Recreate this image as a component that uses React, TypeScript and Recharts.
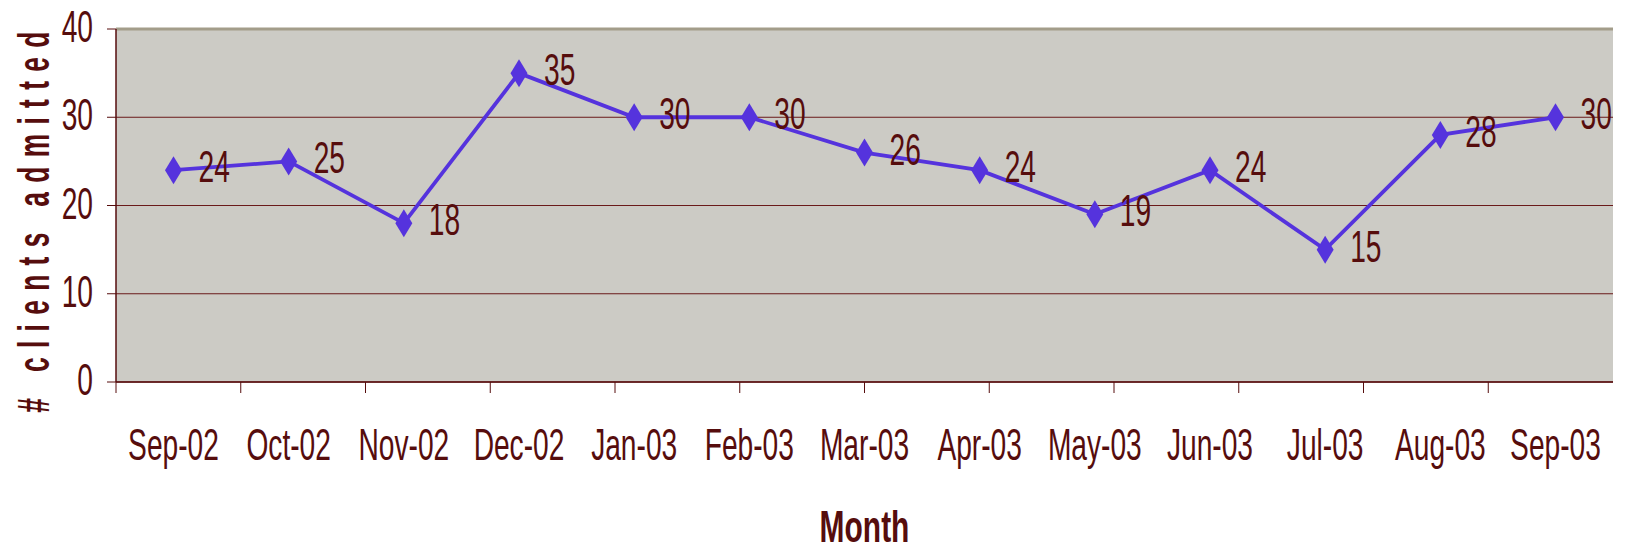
import React from 'react';
import {
  LineChart,
  Line,
  XAxis,
  YAxis,
  CartesianGrid,
  ReferenceLine,
  LabelList,
} from 'recharts';

/* ── Data ─────────────────────────────────────────────────── */
const months = [
  'Sep-02', 'Oct-02', 'Nov-02', 'Dec-02', 'Jan-03', 'Feb-03', 'Mar-03',
  'Apr-03', 'May-03', 'Jun-03', 'Jul-03', 'Aug-03', 'Sep-03',
];
const admitted = [24, 25, 18, 35, 30, 30, 26, 24, 19, 24, 15, 28, 30];
const yTicks = [0, 10, 20, 30, 40];
// category boundaries, where the tick marks sit
const edgeTicks = [0, 1, 2, 3, 4, 5, 6, 7, 8, 9, 10, 11, 12, 13];

const chartData = months.map((m, i) => ({ month: m, value: admitted[i] }));

/* ── Tokens ───────────────────────────────────────────────── */
const INK = '#560D0D';
const LINE = '#5533DD';
const PLOT_BG = '#CCCBC5';
const FRAME = '#A39D8A';
const GRID = '#6A1A1A';
const FONT = "'Liberation Sans', Arial, sans-serif";

/* squeezed text, the original uses a very condensed face */
function Squash(props: {
  x: number;
  y: number;
  size?: number;
  sx?: number;
  anchor?: 'start' | 'middle' | 'end';
  bold?: boolean;
  rotate?: number;
  spacing?: number;
  children: React.ReactNode;
}) {
  const { x, y, size = 44, sx = 0.64, anchor = 'middle', bold, rotate = 0, spacing = 0, children } = props;
  return (
    <text
      transform={`translate(${x} ${y}) rotate(${rotate}) scale(${sx} 1)`}
      textAnchor={anchor}
      fontFamily={FONT}
      fontSize={size}
      fontWeight={bold ? 700 : 400}
      letterSpacing={spacing}
      fill={INK}
    >
      {children}
    </text>
  );
}

const NoLabel = () => <g />;

const YTick = (p: any) => (
  <Squash x={p.x} y={p.y + 13} anchor="end">
    {p.payload.value}
  </Squash>
);

const MonthTick = (p: any) => (
  <Squash x={p.x} y={p.y + 77}>
    {p.payload.value}
  </Squash>
);

const Diamond = (p: any) => {
  const { cx, cy, index } = p;
  if (cx == null || cy == null) return <g key={index} />;
  return (
    <polygon
      key={index}
      points={`${cx},${cy - 14} ${cx + 8.5},${cy} ${cx},${cy + 14} ${cx - 8.5},${cy}`}
      fill={LINE}
    />
  );
};

const ValueLabel = (p: any) => (
  <Squash x={p.x + 25} y={p.y + 12} anchor="start">
    {p.value}
  </Squash>
);

const MonthTitle = (p: any) => {
  const vb = p.viewBox;
  return (
    <Squash x={vb.x + vb.width / 2} y={vb.y + vb.height - 9} size={44.7} sx={0.67} bold>
      Month
    </Squash>
  );
};

const YTitle = (p: any) => {
  const vb = p.viewBox;
  return (
    <Squash
      x={49}
      y={vb.y + vb.height / 2 + 12}
      size={44}
      sx={0.6}
      rotate={-90}
      spacing={15.5}
      bold
    >
      # clients admitted
    </Squash>
  );
};

export default function App() {
  return (
    <div style={{ position: 'absolute', left: 0, top: 0, width: 1627, height: 551, background: '#fff' }}>
      <LineChart
        width={1627}
        height={551}
        data={chartData}
        margin={{ top: 29, right: 14, bottom: 0, left: 0 }}
      >
        <CartesianGrid
          xAxisId="edges"
          vertical={false}
          stroke={GRID}
          fill={PLOT_BG}
          fillOpacity={1}
        />
        <XAxis
          xAxisId="edges"
          type="number"
          domain={[0, 13]}
          ticks={edgeTicks}
          allowDataOverflow
          height={1}
          tick={<NoLabel />}
          tickSize={11}
          tickLine={{ stroke: INK }}
          axisLine={{ stroke: INK, strokeWidth: 1.5 }}
        />
        <XAxis
          xAxisId="months"
          dataKey="month"
          height={168}
          padding={{ left: 57.5, right: 57.5 }}
          axisLine={false}
          tickLine={false}
          tickSize={0}
          tickMargin={0}
          interval={0}
          tick={<MonthTick />}
          label={<MonthTitle />}
        />
        <YAxis
          domain={[0, 40]}
          ticks={yTicks}
          width={116}
          tickSize={9}
          tickMargin={14}
          tickLine={{ stroke: INK }}
          axisLine={{ stroke: INK, strokeWidth: 1.5 }}
          tick={<YTick />}
          label={<YTitle />}
        />
        <ReferenceLine xAxisId="edges" y={40} stroke={FRAME} strokeWidth={3} />
        <ReferenceLine xAxisId="edges" x={13} stroke={FRAME} strokeWidth={2} />
        <Line
          xAxisId="months"
          type="linear"
          dataKey="value"
          stroke={LINE}
          strokeWidth={3.8}
          dot={Diamond}
          activeDot={false}
          isAnimationActive={false}
        >
          <LabelList dataKey="value" content={ValueLabel} />
        </Line>
      </LineChart>
    </div>
  );
}
